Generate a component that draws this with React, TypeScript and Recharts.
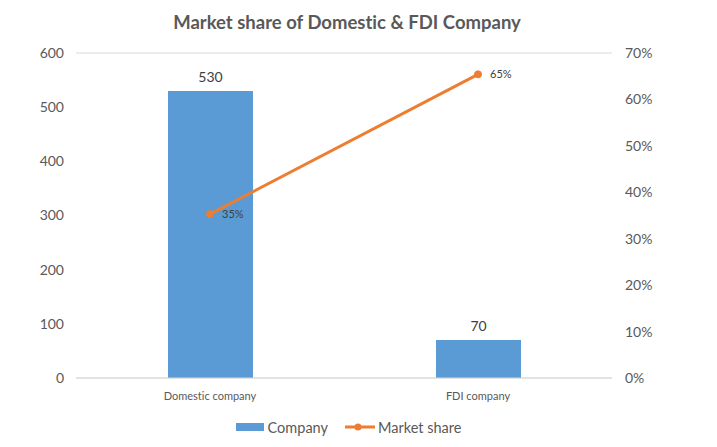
import React from 'react'
import {
  ComposedChart,
  Bar,
  Line,
  XAxis,
  YAxis,
  CartesianGrid,
  Legend,
  LabelList,
} from 'recharts'

const categories = ['Domestic company', 'FDI company']
const companyCounts = [530, 70]
const marketShare = [0.353, 0.654]
const leftTicks = [0, 100, 200, 300, 400, 500, 600]
const rightTicks = [0, 0.1, 0.2, 0.3, 0.4, 0.5, 0.6, 0.7]

const BLUE = '#5B9BD5'
const ORANGE = '#ED7D31'
const TEXT = '#595959'
const FONT = 'Lato, "Open Sans", sans-serif'

const data = categories.map((name, i) => ({
  name,
  company: companyCounts[i],
  share: marketShare[i],
}))

const pct = (v: number) => `${Math.round(v * 100)}%`

function LegendContent() {
  return (
    <div
      style={{
        height: 30,
        boxSizing: 'border-box',
        paddingTop: 8,
        paddingRight: 20,
        display: 'flex',
        alignItems: 'center',
        justifyContent: 'center',
        fontFamily: FONT,
        fontSize: 14.5,
        color: TEXT,
      }}
    >
      <span style={{ display: 'inline-block', width: 28, height: 8, background: BLUE, marginRight: 4 }} />
      <span style={{ marginRight: 17 }}>Company</span>
      <svg width={30} height={10} style={{ marginRight: 3 }}>
        <line x1={0} y1={5} x2={30} y2={5} stroke={ORANGE} strokeWidth={3} />
        <circle cx={13} cy={5} r={3.5} fill={ORANGE} />
      </svg>
      <span>Market share</span>
    </div>
  )
}

export default function App() {
  return (
    <div
      style={{
        position: 'absolute',
        left: 0,
        top: 0,
        width: 717,
        height: 447,
        background: '#fff',
        fontVariantLigatures: 'none',
      }}
    >
      <ComposedChart
        width={717}
        height={447}
        data={data}
        margin={{ top: 53, right: 0, left: 0, bottom: 9 }}
        style={{ fontFamily: FONT }}
      >
        <text
          x={347}
          y={22}
          textAnchor="middle"
          dominantBaseline="central"
          fill={TEXT}
          fontSize={18.5}
          fontWeight={700}
          fontFamily={FONT}
        >
          Market share of Domestic &amp; FDI Company
        </text>
        <CartesianGrid vertical={false} stroke="#D9D9D9" />
        <XAxis
          dataKey="name"
          height={30}
          axisLine={{ stroke: '#D9D9D9' }}
          tickLine={false}
          tick={{ fill: TEXT, fontSize: 11 }}
          tickMargin={8}
        />
        <YAxis
          yAxisId="left"
          width={76}
          domain={[0, 600]}
          ticks={leftTicks}
          axisLine={false}
          tickLine={false}
          tick={{ fill: TEXT, fontSize: 14 }}
          tickMargin={6}
        />
        <YAxis
          yAxisId="right"
          orientation="right"
          width={105}
          domain={[0, 0.7]}
          ticks={rightTicks}
          axisLine={false}
          tickLine={false}
          tick={{ fill: TEXT, fontSize: 14, textAnchor: 'start' }}
          tickMargin={7}
          tickFormatter={pct}
        />
        <Bar yAxisId="left" dataKey="company" name="Company" fill={BLUE} barSize={85} isAnimationActive={false}>
          <LabelList dataKey="company" position="top" offset={9} fill="#404040" fontSize={14} />
        </Bar>
        <Line
          yAxisId="right"
          dataKey="share"
          name="Market share"
          stroke={ORANGE}
          strokeWidth={3}
          dot={{ r: 3.5, fill: ORANGE, stroke: ORANGE, strokeWidth: 1 }}
          isAnimationActive={false}
        >
          <LabelList
            dataKey="share"
            position="right"
            offset={12}
            fill="#404040"
            fontSize={11}
            formatter={(v: number) => pct(v)}
          />
        </Line>
        <Legend verticalAlign="bottom" height={30} content={<LegendContent />} />
      </ComposedChart>
    </div>
  )
}
